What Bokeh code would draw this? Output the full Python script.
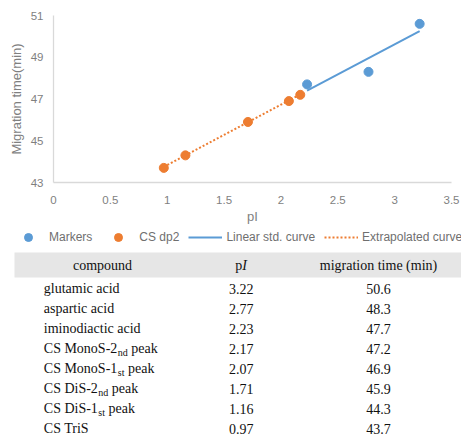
import glob
import subprocess

from bokeh.plotting import figure
from bokeh.models import (Range1d, FixedTicker, NumeralTickFormatter, Legend, LegendItem)
from bokeh.core.properties import value
from bokeh.embed import file_html
from bokeh.resources import INLINE

# ---------------- data ----------------
marker_pI = [3.22, 2.77, 2.23]
marker_time = [50.6, 48.3, 47.7]
cs_pI = [2.17, 2.07, 1.71, 1.16, 0.97]
cs_time = [47.2, 46.9, 45.9, 44.3, 43.7]
std_curve_pI = [2.23, 3.22]
std_curve_time = [47.4, 50.25]
extrap_pI = [0.97, 2.17]
extrap_time = [43.75, 47.22]
x_ticks = [0, 0.5, 1, 1.5, 2, 2.5, 3, 3.5]
y_ticks = [43, 45, 47, 49, 51]
legend_labels = ["Markers", "CS dp2", "Linear std. curve", "Extrapolated curve"]

compound_main = ["glutamic acid", "aspartic acid", "iminodiactic acid", "CS MonoS-2",
                 "CS MonoS-1", "CS DiS-2", "CS DiS-1", "CS TriS"]
compound_sub = ["", "", "", "nd", "st", "nd", "st", ""]
compound_tail = ["", "", "", "peak", "peak", "peak", "peak", ""]
table_pI = ["3.22", "2.77", "2.23", "2.17", "2.07", "1.71", "1.16", "0.97"]
table_time = ["50.6", "48.3", "47.7", "47.2", "46.9", "45.9", "44.3", "43.7"]

BLUE = "#5B9BD5"
ORANGE = "#ED7D31"
GRAY = "#7f7f7f"

# ---------------- font metrics helper ----------------
def find_font(fname):
    for base in ["/usr/share/fonts", "/usr/local/share/fonts"]:
        hits = glob.glob(base + "/**/" + fname, recursive=True)
        if hits:
            return hits[0]
    try:
        out = subprocess.run(["fc-match", "-f", "%{file}", fname.split("-")[0]],
                             capture_output=True, text=True).stdout.strip()
        if out:
            return out
    except Exception:
        pass
    return None

_fonts = {}
def text_width(txt, size, fname="LiberationSerif-Regular.ttf"):
    try:
        from PIL import ImageFont
        key = (fname, size)
        if key not in _fonts:
            path = find_font(fname)
            _fonts[key] = ImageFont.truetype(path, size) if path else None
        f = _fonts[key]
        if f is not None:
            return f.getlength(txt)
    except Exception:
        pass
    return len(txt) * size * 0.5

W = 461
CH = 226          # chart figure height
TH = 436 - CH     # legend + table figure height

# ---------------- chart ----------------
p = figure(width=W, height=CH, x_range=Range1d(0, 3.5), y_range=Range1d(43, 51),
           output_backend="svg", toolbar_location=None,
           min_border_left=53, min_border_right=10, min_border_top=15, min_border_bottom=44)
p.outline_line_color = None
p.grid.grid_line_color = None

for ax in (p.xaxis[0], p.yaxis[0]):
    ax.axis_line_color = "#d9d9d9"
    ax.axis_line_width = 1.3
    ax.major_tick_line_color = None
    ax.minor_tick_line_color = None
    ax.major_tick_out = 0
    ax.major_tick_in = 0
    ax.major_label_text_color = GRAY
    ax.major_label_text_font = "Liberation Sans"
    ax.major_label_text_font_size = "11.5px"
    ax.axis_label_text_color = GRAY
    ax.axis_label_text_font = "Liberation Sans"
    ax.axis_label_text_font_size = "13px"
    ax.axis_label_text_font_style = "normal"

p.xaxis.ticker = FixedTicker(ticks=x_ticks)
p.xaxis.formatter = NumeralTickFormatter(format="0.[0]")
p.yaxis.ticker = FixedTicker(ticks=y_ticks)
p.xaxis.axis_label = "pI"
p.yaxis.axis_label = "Migration time(min)"
p.xaxis.major_label_standoff = 13
p.xaxis.axis_label_standoff = 2
p.yaxis.major_label_standoff = 10
p.yaxis.axis_label_standoff = 4

p.line(std_curve_pI, std_curve_time, line_color=BLUE, line_width=2)
p.line(extrap_pI, extrap_time, line_color=ORANGE, line_width=2, line_dash="2 2")
p.scatter(marker_pI, marker_time, size=9, fill_color=BLUE, line_color=BLUE)
p.scatter(cs_pI, cs_time, size=9, fill_color=ORANGE, line_color=ORANGE)

# ---------------- legend + table (pixel coordinates, y downward) ----------------
t = figure(width=W, height=TH, x_range=Range1d(0, W), y_range=Range1d(TH, 0),
           output_backend="svg", toolbar_location=None, min_border=0,
           min_border_left=0, min_border_right=0, min_border_top=0, min_border_bottom=0,
           x_axis_location=None, y_axis_location=None)
t.outline_line_color = None
t.grid.visible = False

# hidden copies of the series, used only as legend swatch sources
lm = t.scatter(marker_pI, marker_time, size=9, fill_color=BLUE, line_color=BLUE, visible=False)
lc = t.scatter(cs_pI, cs_time, size=9, fill_color=ORANGE, line_color=ORANGE, visible=False)
ll = t.line(std_curve_pI, std_curve_time, line_color=BLUE, line_width=2, visible=False)
le = t.line(extrap_pI, extrap_time, line_color=ORANGE, line_width=2, line_dash="2 2", visible=False)
legend = Legend(items=[LegendItem(label=lab, renderers=[r])
                       for lab, r in zip(legend_labels, [lm, lc, ll, le])],
                orientation="horizontal", location=(11, TH - 20.5),
                glyph_width=34, glyph_height=20, label_height=20, label_standoff=4,
                spacing=9, padding=0, margin=0, border_line_color=None,
                background_fill_alpha=0, label_text_font="Liberation Sans",
                label_text_font_size="12px", label_text_color="#6f6f6f",
                label_text_baseline="middle")
t.add_layout(legend, "center")

SERIF = value("Liberation Serif")
FS = 14
INK = "#111111"
t.quad(left=[14], right=[W], top=[26], bottom=[51], fill_color="#e6e6e6", line_color=None)

hy = 38.5
t.text(x=[102], y=[hy], text=["compound"], text_font=SERIF, text_font_size=value("14px"),
       text_align="center", text_baseline="middle", text_color=INK)
wp = text_width("p", FS)
wi = text_width("I", FS, "LiberationSerif-Italic.ttf")
pi_c = 240.5
t.text(x=[pi_c - (wp + wi) / 2 + wp], y=[hy], text=["p"], text_font=SERIF,
       text_font_size=value("14px"), text_align="right", text_baseline="middle", text_color=INK)
t.text(x=[pi_c - (wp + wi) / 2 + wp], y=[hy], text=["I"], text_font=SERIF,
       text_font_size=value("14px"), text_font_style="italic", text_align="left",
       text_baseline="middle", text_color=INK)
t.text(x=[378], y=[hy], text=["migration time (min)"], text_font=SERIF,
       text_font_size=value("14px"), text_align="center", text_baseline="middle", text_color=INK)

row0, row_step = 62, 20
ys = [row0 + i * row_step for i in range(len(compound_main))]
x0 = 43.3
t.text(x=[x0] * len(ys), y=ys, text=compound_main, text_font=SERIF, text_font_size=value("14px"),
       text_align="left", text_baseline="middle", text_color=INK)
sub_x, sub_y, sub_t, tail_x, tail_y, tail_t = [], [], [], [], [], []
space_w = text_width(" ", FS)
for yy, m, s, tl in zip(ys, compound_main, compound_sub, compound_tail):
    if s:
        sx = x0 + text_width(m, FS) + 0.5
        sub_x.append(sx); sub_y.append(yy + 3.5); sub_t.append(s)
        tail_x.append(sx + text_width(s, 10) + space_w); tail_y.append(yy); tail_t.append(tl)
t.text(x=sub_x, y=sub_y, text=sub_t, text_font=SERIF, text_font_size=value("10px"),
       text_align="left", text_baseline="middle", text_color=INK)
t.text(x=tail_x, y=tail_y, text=tail_t, text_font=SERIF, text_font_size=value("14px"),
       text_align="left", text_baseline="middle", text_color=INK)
t.text(x=[240.7] * len(ys), y=ys, text=table_pI, text_font=SERIF, text_font_size=value("14px"),
       text_align="center", text_baseline="middle", text_color=INK)
t.text(x=[378] * len(ys), y=ys, text=table_time, text_font=SERIF, text_font_size=value("14px"),
       text_align="center", text_baseline="middle", text_color=INK)

open("out.html", "w").write(file_html([p, t], INLINE))
